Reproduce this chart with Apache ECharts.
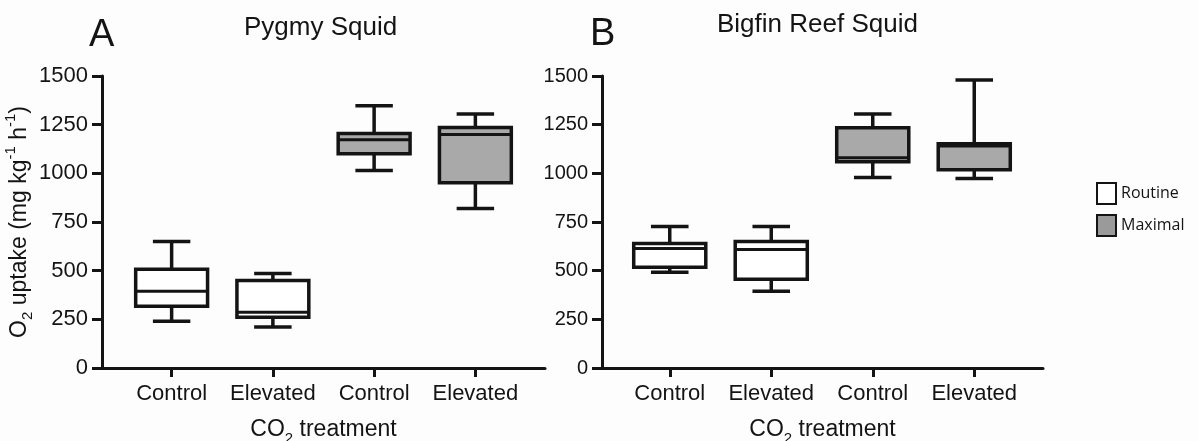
<!DOCTYPE html>
<html lang="en">
<head>
    <meta charset="UTF-8">
    <title>Squid O2 uptake</title>
</head>
<body style="margin:0;background:#fdfdfe">
<div id="main" style="width: 1198px;height:441px;"></div>
<script src="https://cdn.jsdelivr.net/npm/echarts@6/dist/echarts.min.js"></script>
<script>
    // categories on each panel's x axis
    var categories = ['Control', 'Elevated', 'Control', 'Elevated'];
    var yTicks = [0, 250, 500, 750, 1000, 1250, 1500];

    // box stats: [category index, min, q1, median, q3, max]
    var pygmyRoutine = [
        [0, 240, 317, 394, 507, 650],
        [1, 210, 261, 287, 450, 486]
    ];
    var pygmyMaximal = [
        [2, 1014, 1100, 1172, 1205, 1347],
        [3, 819, 952, 1200, 1236, 1305]
    ];
    var bigfinRoutine = [
        [0, 492, 517, 614, 640, 727],
        [1, 394, 456, 609, 650, 727]
    ];
    var bigfinMaximal = [
        [2, 978, 1060, 1080, 1234, 1305],
        [3, 973, 1019, 1140, 1152, 1480]
    ];

    var ink = '#141414';
    var font = "'Liberation Sans', Arial, sans-serif";

    var myChart = echarts.init(document.getElementById('main'));

    // draws a box with narrow whisker caps
    function renderBox(params, api) {
        var x = api.value(0);
        var band = api.size([1, 0])[0];
        var bw = band * 0.71;
        var cw = band * 0.37;
        var lo = api.coord([x, api.value(1)]);
        var q1 = api.coord([x, api.value(2)]);
        var md = api.coord([x, api.value(3)]);
        var q3 = api.coord([x, api.value(4)]);
        var hi = api.coord([x, api.value(5)]);
        var cx = lo[0];
        var st = {stroke: ink, lineWidth: 3.5};
        return {
            type: 'group',
            children: [
                {type: 'line', shape: {x1: cx, y1: hi[1], x2: cx, y2: q3[1]}, style: st},
                {type: 'line', shape: {x1: cx, y1: q1[1], x2: cx, y2: lo[1]}, style: st},
                {type: 'line', shape: {x1: cx - cw / 2, y1: hi[1], x2: cx + cw / 2, y2: hi[1]}, style: st},
                {type: 'line', shape: {x1: cx - cw / 2, y1: lo[1], x2: cx + cw / 2, y2: lo[1]}, style: st},
                {
                    type: 'rect',
                    shape: {x: cx - bw / 2, y: q3[1], width: bw, height: q1[1] - q3[1]},
                    style: {fill: api.visual('color'), stroke: ink, lineWidth: 3.5}
                },
                {type: 'line', shape: {x1: cx - bw / 2, y1: md[1], x2: cx + bw / 2, y2: md[1]}, style: {stroke: ink, lineWidth: 3}}
            ]
        };
    }

    var rich = {
        n: {fontSize: 23, fontFamily: font, color: ink, lineHeight: 32, verticalAlign: 'middle'},
        s: {fontSize: 15, fontFamily: font, color: ink, lineHeight: 32, verticalAlign: 'bottom'},
        p: {fontSize: 15, fontFamily: font, color: ink, lineHeight: 32, verticalAlign: 'top'}
    };

    function frameY(gi, fs, name) {
        return {
            gridIndex: gi, type: 'value', min: 0, max: 1500, interval: 250,
            splitLine: {show: false},
            axisLine: {show: true, lineStyle: {color: ink, width: 3}},
            axisTick: {show: true, length: 10, lineStyle: {color: ink, width: 3}},
            axisLabel: {fontSize: fs, fontFamily: font, color: ink, margin: 14,
                formatter: function (v) { return yTicks.indexOf(v) >= 0 ? String(v) : ''; }},
            name: name || '',
            nameLocation: 'middle',
            nameGap: 63,
            nameTextStyle: {rich: rich}
        };
    }
    function frameX(gi) {
        return {
            gridIndex: gi, type: 'value', min: 0, max: 1,
            splitLine: {show: false}, axisTick: {show: false}, axisLabel: {show: false},
            axisLine: {show: true, lineStyle: {color: ink, width: 3}},
            name: '{n|CO}{s|2}{n| treatment}',
            nameLocation: 'middle',
            nameGap: 46,
            nameTextStyle: {rich: rich}
        };
    }
    function dataX(gi) {
        return {
            gridIndex: gi, type: 'category', data: categories,
            axisLine: {show: false},
            axisTick: {show: true, interval: 0, alignWithLabel: true, length: 9, lineStyle: {color: ink, width: 3}},
            axisLabel: {interval: 0, hideOverlap: false, fontSize: 22, fontFamily: font, color: ink, margin: 15}
        };
    }
    function dataY(gi) {
        return {gridIndex: gi, type: 'value', min: 0, max: 1500, show: false, splitLine: {show: false}};
    }
    function boxSeries(name, xi, data, color) {
        return {
            name: name, type: 'custom', xAxisIndex: xi, yAxisIndex: xi,
            itemStyle: {color: color, borderColor: ink},
            encode: {x: 0, y: [1, 2, 3, 4, 5]},
            renderItem: renderBox,
            data: data
        };
    }
    function panelGrid(left, width) {
        return {left: left, top: 76, width: width, height: 292, outerBoundsMode: 'none', containLabel: false};
    }

    myChart.setOption({
        backgroundColor: '#fdfdfe',
        animation: false,
        title: [
            {text: 'A', left: 89, top: 17, padding: 0, textStyle: {fontSize: 38, fontWeight: 'normal', fontFamily: font, color: ink}},
            {text: 'Pygmy Squid', left: 244, top: 15, padding: 0, textStyle: {fontSize: 26, fontWeight: 'normal', fontFamily: font, color: ink}},
            {text: 'B', left: 590, top: 16, padding: 0, textStyle: {fontSize: 38, fontWeight: 'normal', fontFamily: font, color: ink}},
            {text: 'Bigfin Reef Squid', left: 717, top: 12, padding: 0, textStyle: {fontSize: 26, fontWeight: 'normal', fontFamily: font, color: ink}}
        ],
        legend: {
            left: 1091, top: 177, orient: 'vertical', icon: 'rect',
            itemWidth: 19, itemHeight: 21, itemGap: 9,
            textStyle: {fontSize: 16, fontFamily: 'Open Sans', color: ink},
            data: [
                {name: 'Routine', itemStyle: {color: '#ffffff', borderColor: ink, borderWidth: 2}},
                {name: 'Maximal', itemStyle: {color: '#9a9a9a', borderColor: ink, borderWidth: 2}}
            ]
        },
        grid: [
            panelGrid(102, 443),
            panelGrid(121, 405),
            panelGrid(602, 441),
            panelGrid(619, 406)
        ],
        xAxis: [frameX(0), dataX(1), frameX(2), dataX(3)],
        yAxis: [
            frameY(0, 22, '{n|O}{s|2}{n| uptake (mg kg}{p|-1}{n| h}{p|-1}{n|)}'),
            dataY(1),
            frameY(2, 20),
            dataY(3)
        ],
        series: [
            boxSeries('Routine', 1, pygmyRoutine, '#ffffff'),
            boxSeries('Maximal', 1, pygmyMaximal, '#a9a9a9'),
            boxSeries('Routine', 3, bigfinRoutine, '#ffffff'),
            boxSeries('Maximal', 3, bigfinMaximal, '#a9a9a9')
        ]
    });
</script>
</body>
</html>
